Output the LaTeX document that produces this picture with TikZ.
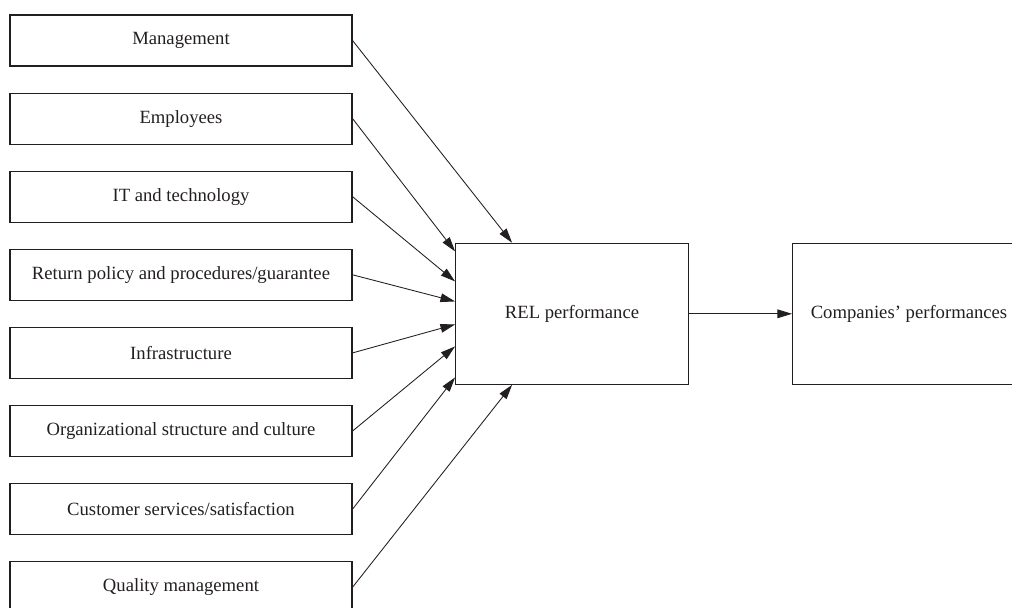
\documentclass[tikz,border=0pt]{standalone}
\usepackage{fontspec}
\setmainfont{Liberation Serif}
\usetikzlibrary{arrows.meta,calc}
\definecolor{ink}{HTML}{231F20}
\begin{document}
\begin{tikzpicture}[x=0.75pt,y=-0.75pt,
  box/.style={draw=ink,line width=0.85pt,inner sep=0pt,text=ink,font=\fontsize{14}{16}\selectfont},
  leftbox/.style={box,minimum width=256.5pt,minimum height=38.25pt},
  bigbox/.style={box,minimum width=174.5pt,minimum height=105.75pt},
  conn/.style={draw=ink,line width=0.65pt,-{Triangle[length=11pt,width=6.5pt]}}]
\useasboundingbox (0,0) rectangle (1012,607);
\clip (0,0) rectangle (1012,607);
\node[leftbox] (m) at (181,40.5) {Management};
\node[leftbox] (e) at (181,118.6) {Employees};
\node[leftbox] (it) at (181,196.7) {IT and technology};
\node[leftbox] (rp) at (181,274.8) {Return policy and procedures/guarantee};
\node[leftbox] (inf) at (181,352.9) {Infrastructure};
\node[leftbox] (org) at (181,431) {Organizational structure and culture};
\node[leftbox] (cs) at (181,509.1) {Customer services/satisfaction};
\node[leftbox] (qm) at (181,587.2) {Quality management};
\node[bigbox] (rel) at (572,313.8) {REL performance};
\node[bigbox] (cp) at (909,313.8) {Companies' performances};
\draw[conn] (m.east) -- ($(rel.north west)+(57,0)$);
\draw[conn] (e.east) -- ($(rel.north west)+(0,8.7)$);
\draw[conn] (it.east) -- ($(rel.north west)+(0,38.7)$);
\draw[conn] (rp.east) -- ($(rel.north west)+(0,58.7)$);
\draw[conn] (inf.east) -- ($(rel.north west)+(0,81.7)$);
\draw[conn] (org.east) -- ($(rel.north west)+(0,103.7)$);
\draw[conn] (cs.east) -- ($(rel.north west)+(0,134.7)$);
\draw[conn] (qm.east) -- ($(rel.south west)+(57,0)$);
\draw[conn] (rel.east) -- (cp.west);
\end{tikzpicture}
\end{document}
